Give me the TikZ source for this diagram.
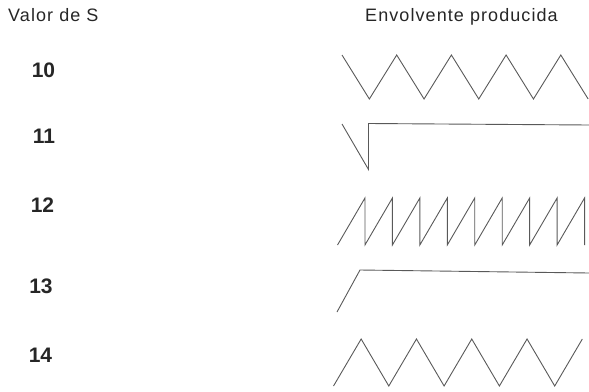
\documentclass[tikz,border=0pt]{standalone}
\usepackage{fontspec}
\setmainfont{Liberation Sans}
\newfontfamily\hdrfont[LetterSpace=6]{Liberation Sans}
\usepackage{xcolor}
\usepackage{tikz}
\usetikzlibrary{calc}

\begin{document}
\begin{tikzpicture}[x=1pt, y=-1pt, line join=miter,
    wave/.style={black!65, line width=0.9pt},
    hdr/.style={inner sep=0pt, anchor=base west, text=black!85, font=\hdrfont\fontsize{18}{20}\selectfont},
    sval/.style={inner sep=0pt, anchor=base, text=black!85, font=\bfseries\fontsize{21}{24}\selectfont}]
  \useasboundingbox (0,0) rectangle (589,391);
  \node[hdr] (valorS) at (8,21.7) {Valor de S};
  \node[hdr] (envol) at (365,21.5) {Envolvente producida};
  \node[sval] (s10) at (43.5,77) {10};
  \node[sval] (s11) at (44,143) {11};
  \node[sval] (s12) at (42.5,212) {12};
  \node[sval] (s13) at (41,293) {13};
  \node[sval] (s14) at (40.5,362) {14};
  % S = 10: triangle, starting high
  \pgfmathsetmacro{\hp}{27.35}
  \draw[wave] (342,55) \foreach \k in {1,...,4}{ -- ++(\hp,44) -- ++(\hp,-44) } -- ++(\hp,44);
  % S = 11: decay, then hold high
  \coordinate (a11) at (342,124);
  \coordinate (b11) at (368.5,169.5);
  \draw[wave] (a11) -- (b11) -- (368.5,123.5) -- (589,125);
  % S = 12: sawtooth
  \draw[wave] (337.5,245) \foreach \k in {1,...,9}{ -- ++(27.45,-47) -- ++(0,47) };
  % S = 13: attack, then hold high
  \coordinate (a13) at (337,312);
  \coordinate (b13) at (360,270);
  \draw[wave] (a13) -- (b13) -- (589,273);
  % S = 14: triangle, starting low
  \pgfmathsetmacro{\hq}{27.65}
  \draw[wave] (333.5,386) \foreach \k in {1,...,4}{ -- ++(\hq,-47) -- ++(\hq,47) } -- ++(\hq,-47);
\end{tikzpicture}
\end{document}
